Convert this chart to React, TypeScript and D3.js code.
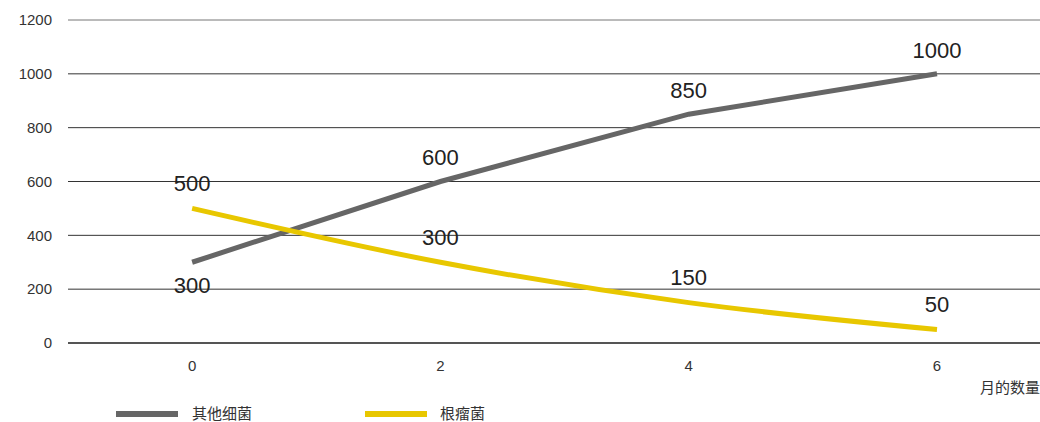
import React from "react";
import * as d3 from "d3";

const months = [0, 2, 4, 6];
const otherBacteria = [300, 600, 850, 1000];
const rhizobia = [500, 300, 150, 50];
const yTicks = [0, 200, 400, 600, 800, 1000, 1200];
const seriesNames = ["其他细菌", "根瘤菌"];
const xTitle = "月的数量";

const W = 1040, H = 422;
const FONT = "'Liberation Sans', Arial, 'Noto Sans CJK SC', sans-serif";

export default function App() {
  const x = d3.scaleLinear().domain([-1, 6]).range([68, 937]);
  const y = d3.scaleLinear().domain([0, 1200]).range([343, 20]);
  const grayLine = d3.line<number>().x((_, i) => x(months[i])).y(d => y(d));
  const yellowLine = d3.line<number>().x((_, i) => x(months[i])).y(d => y(d)).curve(d3.curveMonotoneX);
  const gray = "#666666";
  const yellow = "#e8c700";
  return (
    <svg width={W} height={H} style={{ position: "absolute", left: 0, top: 0, fontFamily: FONT }}>
      {yTicks.map(t => (
        <g key={t}>
          <line x1={68} x2={W} y1={y(t)} y2={y(t)} stroke={t === 0 ? "#555" : t === 1200 ? "#777" : "#333"} strokeWidth={t === 0 ? 2 : 1} />
          <text x={52} y={y(t)} dy="0.35em" textAnchor="end" fontSize={15} fill="#333">{t}</text>
        </g>
      ))}
      {months.map(m => (
        <text key={m} x={x(m)} y={366} dy="0.35em" textAnchor="middle" fontSize={15} fill="#333">{m}</text>
      ))}
      <text x={1040} y={388} dy="0.35em" textAnchor="end" fontSize={15} fill="#333">{xTitle}</text>
      <path d={grayLine(otherBacteria) || ""} fill="none" stroke={gray} strokeWidth={5} />
      <path d={yellowLine(rhizobia) || ""} fill="none" stroke={yellow} strokeWidth={5} />
      {otherBacteria.map((v, i) => (
        <text key={"g" + i} x={x(months[i])} y={y(v) + (i === 0 ? 23 : -24)} dy="0.35em" textAnchor="middle" fontSize={22} fill="#222">{v}</text>
      ))}
      {rhizobia.map((v, i) => (
        <text key={"y" + i} x={x(months[i])} y={y(v) - 25} dy="0.35em" textAnchor="middle" fontSize={22} fill="#222">{v}</text>
      ))}
      <line x1={116} x2={178} y1={414} y2={414} stroke={gray} strokeWidth={6} />
      <text x={192} y={414} dy="0.35em" fontSize={15} fill="#333">{seriesNames[0]}</text>
      <line x1={365} x2={427} y1={414} y2={414} stroke={yellow} strokeWidth={6} />
      <text x={440} y={414} dy="0.35em" fontSize={15} fill="#333">{seriesNames[1]}</text>
    </svg>
  );
}
